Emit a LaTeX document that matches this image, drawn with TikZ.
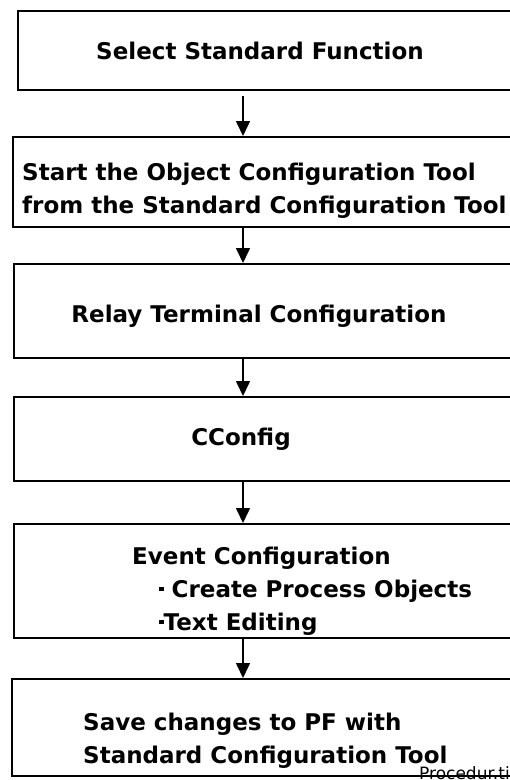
\documentclass[tikz,border=0pt]{standalone}
\usepackage{fontspec}
\setmainfont{DejaVu Sans}
\usetikzlibrary{arrows.meta}
\newcommand{\dotmark}{\raisebox{6pt}{\rule{4.5pt}{4.5pt}}}
\tikzset{
  stepbox/.style={draw, line width=1.8pt, anchor=north west, minimum width=520pt, inner sep=0pt},
  steptext/.style={font=\fontsize{23}{33}\selectfont\bfseries, align=left, inner sep=0pt},
  flow/.style={line width=1.6pt, -{Triangle[width=14pt,length=15pt]}}
}
\begin{document}
\begin{tikzpicture}[x=1pt,y=-1pt]
  \useasboundingbox (0,0) rectangle (510,780);
  \clip (0,0) rectangle (510,780);
  % boxes, all running off the right edge
  \node[stepbox, minimum height=79pt] (select) at (17,10) {};
  \node[stepbox, minimum height=90pt] (objtool) at (12,136) {};
  \node[stepbox, minimum height=94pt] (relay) at (13,263) {};
  \node[stepbox, minimum height=84pt] (cconfig) at (13,396) {};
  \node[stepbox, minimum height=114pt] (event) at (13,523) {};
  \node[stepbox, minimum height=97pt] (save) at (11,678) {};
  % labels (multi-line ones sit on their last line, +8 for the depth)
  \node[steptext, anchor=base] (selectlbl) at (260,59) {Select Standard Function};
  \node[steptext, anchor=base west] (objtoollbl) at (22,213) {Start the Object Configuration Tool\\from the Standard Configuration Tool};
  \node[steptext, anchor=base] (relaylbl) at (259,322) {Relay Terminal Configuration};
  \node[steptext, anchor=base] (cconfiglbl) at (241,445) {CConfig};
  \node[steptext, anchor=base west] (eventlbl) at (132,630) {Event Configuration\\\hspace{27pt}\dotmark\ Create Process Objects\\\hspace{27pt}\dotmark Text Editing};
  \node[steptext, anchor=base west] (savelbl) at (83,763) {Save changes to PF with\\Standard Configuration Tool};
  % arrows down the middle
  \coordinate (axis) at (243,0);
  \draw[flow, shorten <=5pt] (select.south -| axis) -- (objtool.north -| axis);
  \foreach \a/\b in {objtool/relay, relay/cconfig, cconfig/event, event/save}
    \draw[flow] (\a.south -| axis) -- (\b.north -| axis);
  % file name in the corner
  \node[font=\fontsize{17}{17}\selectfont, anchor=base west, inner sep=0pt] (fname) at (419,779) {Procedur.tif};
\end{tikzpicture}
\end{document}
